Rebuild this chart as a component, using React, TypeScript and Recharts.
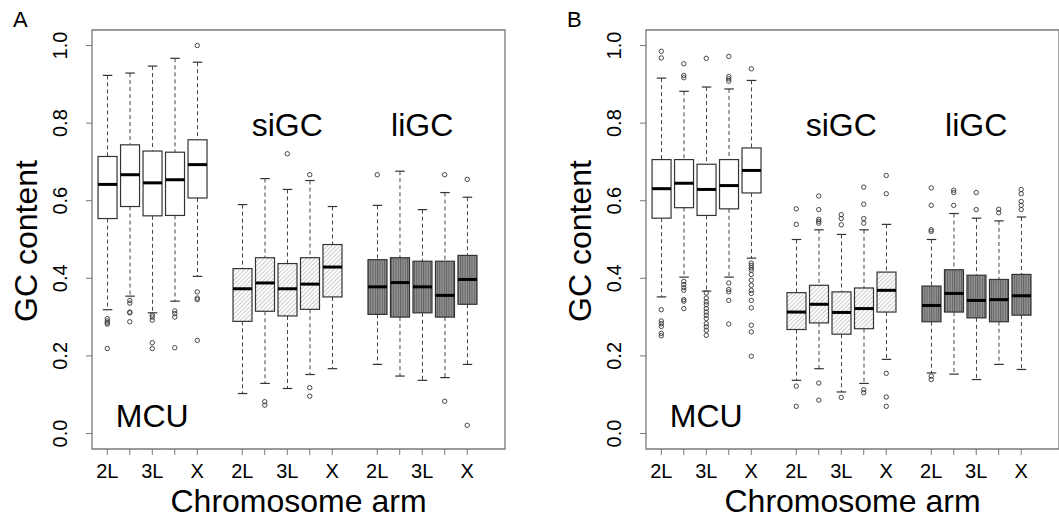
import React from 'react';
import { ComposedChart, Bar, Scatter, XAxis, YAxis, ReferenceArea, Label } from 'recharts';

const arms = ['2L', '2R', '3L', '3R', 'X'];
const armTickLabels = ['2L', '', '3L', '', 'X'];
const groups = ['MCU', 'siGC', 'liGC'];
const yTicks = [0, 0.2, 0.4, 0.6, 0.8, 1.0];
const xTicks = [1, 2, 3, 4, 5, 7, 8, 9, 10, 11, 13, 14, 15, 16, 17];
const groupLabelY = [0.016, 0.768, 0.768];

// order in every array: MCU 2L..X, siGC 2L..X, liGC 2L..X
// panel A
const aLow = [0.319, 0.354, 0.311, 0.341, 0.405, 0.103, 0.129, 0.116, 0.152, 0.167, 0.178, 0.148, 0.137, 0.144, 0.178];
const aQ1 = [0.554, 0.585, 0.561, 0.562, 0.607, 0.289, 0.315, 0.303, 0.320, 0.352, 0.307, 0.300, 0.311, 0.300, 0.333];
const aMedian = [0.642, 0.667, 0.646, 0.654, 0.693, 0.373, 0.388, 0.373, 0.385, 0.429, 0.378, 0.389, 0.378, 0.356, 0.397];
const aQ3 = [0.714, 0.744, 0.728, 0.725, 0.757, 0.425, 0.453, 0.438, 0.453, 0.487, 0.448, 0.453, 0.444, 0.444, 0.459];
const aHigh = [0.923, 0.929, 0.947, 0.967, 0.957, 0.590, 0.657, 0.629, 0.652, 0.585, 0.588, 0.676, 0.577, 0.621, 0.609];
const aOutliers = [
  [0.296, 0.290, 0.285, 0.282, 0.219],
  [0.343, 0.336, 0.313, 0.311, 0.288],
  [0.305, 0.300, 0.292, 0.234, 0.219],
  [0.316, 0.309, 0.300, 0.221],
  [1.0, 0.365, 0.349, 0.345, 0.240],
  [],
  [0.082, 0.073],
  [0.721],
  [0.667, 0.118, 0.096],
  [],
  [0.667],
  [],
  [],
  [0.667, 0.083],
  [0.655, 0.021],
];

// panel B
const bLow = [0.352, 0.403, 0.367, 0.403, 0.452, 0.137, 0.167, 0.107, 0.129, 0.191, 0.156, 0.153, 0.139, 0.178, 0.165];
const bQ1 = [0.555, 0.582, 0.562, 0.579, 0.620, 0.268, 0.285, 0.256, 0.270, 0.313, 0.288, 0.313, 0.298, 0.288, 0.305];
const bMedian = [0.631, 0.645, 0.629, 0.639, 0.678, 0.313, 0.333, 0.312, 0.322, 0.369, 0.330, 0.361, 0.343, 0.345, 0.355];
const bQ3 = [0.706, 0.706, 0.694, 0.706, 0.736, 0.363, 0.382, 0.365, 0.375, 0.416, 0.380, 0.422, 0.408, 0.397, 0.410];
const bHigh = [0.916, 0.882, 0.893, 0.888, 0.910, 0.500, 0.525, 0.513, 0.525, 0.539, 0.500, 0.567, 0.555, 0.548, 0.558];
const bOutliers = [
  [0.985, 0.968, 0.319, 0.290, 0.283, 0.276, 0.258, 0.252],
  [0.953, 0.923, 0.917, 0.392, 0.384, 0.376, 0.369, 0.345, 0.341, 0.322],
  [0.967, 0.362, 0.349, 0.339, 0.332, 0.322, 0.313, 0.305, 0.296, 0.283, 0.275, 0.266, 0.253],
  [0.972, 0.920, 0.914, 0.908, 0.388, 0.371, 0.365, 0.343, 0.282],
  [0.940, 0.439, 0.433, 0.427, 0.421, 0.410, 0.395, 0.382, 0.369, 0.361, 0.343, 0.324, 0.279, 0.262, 0.199],
  [0.579, 0.539, 0.122, 0.070],
  [0.612, 0.577, 0.552, 0.547, 0.542, 0.130, 0.086],
  [0.564, 0.554, 0.538, 0.093],
  [0.635, 0.591, 0.554, 0.542, 0.113, 0.105],
  [0.665, 0.618, 0.155, 0.094, 0.070],
  [0.633, 0.588, 0.525, 0.521, 0.148, 0.139],
  [0.627, 0.621, 0.588],
  [0.621, 0.577],
  [0.578, 0.569],
  [0.629, 0.618, 0.598, 0.588, 0.577],
];

const FONT = '"Liberation Sans", Arial, Helvetica, sans-serif';
const posOf = (i: number) => Math.floor(i / 5) * 6 + (i % 5) + 1;

function buildBoxes(low: number[], q1: number[], med: number[], q3: number[], high: number[]) {
  return low.map((_, i) => ({
    pos: posOf(i),
    group: groups[Math.floor(i / 5)],
    arm: arms[i % 5],
    lo: low[i],
    q1: q1[i],
    med: med[i],
    q3: q3[i],
    hi: high[i],
  }));
}

function buildOutliers(out: number[][]) {
  return out.flatMap((vals, i) => vals.map((v) => ({ pos: posOf(i), v })));
}

const groupLabels = groups.map((g, gi) => ({ pos: gi * 6 + 3, v: groupLabelY[gi], text: g }));

function BoxShape(props: any) {
  const { x, y, width, height, payload, prefix } = props;
  const { lo, q1, med, q3, hi, group } = payload;
  // pixel scale taken from the bar geometry recharts gives for [lo, hi]
  const k = Math.abs(height) / (hi - lo);
  const top = Math.min(y, y + height);
  const yv = (v: number) => top + (hi - v) * k;
  const cx = x + width / 2;
  const cap = width / 4;
  const fill = group === 'MCU' ? '#ffffff' : group === 'siGC' ? `url(#${prefix}-diag)` : `url(#${prefix}-vert)`;
  return (
    <g>
      <line x1={cx} x2={cx} y1={yv(hi)} y2={yv(q3)} stroke="#444" strokeWidth={1} strokeDasharray="4 3" />
      <line x1={cx} x2={cx} y1={yv(q1)} y2={yv(lo)} stroke="#444" strokeWidth={1} strokeDasharray="4 3" />
      <line x1={cx - cap} x2={cx + cap} y1={yv(hi)} y2={yv(hi)} stroke="#333" strokeWidth={1.2} />
      <line x1={cx - cap} x2={cx + cap} y1={yv(lo)} y2={yv(lo)} stroke="#333" strokeWidth={1.2} />
      <rect x={x} y={yv(q3)} width={width} height={yv(q1) - yv(q3)} fill={fill} stroke="#333" strokeWidth={1.2} />
      <line x1={x} x2={x + width} y1={yv(med)} y2={yv(med)} stroke="#000" strokeWidth={3} />
    </g>
  );
}

function XTick(props: any) {
  const { x, y, payload } = props;
  const label = armTickLabels[(payload.value - 1) % 6];
  return (
    <text x={x} y={y + 23} textAnchor="middle" fontSize={20} fill="#000">
      {label}
    </text>
  );
}

function YTick(props: any) {
  const { x, y, payload } = props;
  return (
    <text transform={`translate(${x - 19},${y}) rotate(-90)`} textAnchor="middle" fontSize={20} fill="#000">
      {Number(payload.value).toFixed(1)}
    </text>
  );
}

function Panel({ prefix, letter, left, width, marginRight, low, q1, med, q3, high, outliers }: any) {
  const boxes = buildBoxes(low, q1, med, q3, high);
  const points = buildOutliers(outliers);
  return (
    <div style={{ position: 'absolute', left, top: 0, width, height: 518 }}>
      <div style={{ position: 'absolute', left: 13, top: 9, fontSize: 22, lineHeight: '22px', zIndex: 2 }}>{letter}</div>
      <ComposedChart width={width} height={518} data={boxes} margin={{ top: 30, right: marginRight, bottom: 29, left: 32 }}>
        <defs>
          <pattern id={`${prefix}-diag`} patternUnits="userSpaceOnUse" width={3} height={3} patternTransform="rotate(45)">
            <rect width={3} height={3} fill="#ffffff" />
            <line x1={0} y1={0} x2={0} y2={3} stroke="#8a8a8a" strokeWidth={0.9} />
          </pattern>
          <pattern id={`${prefix}-vert`} patternUnits="userSpaceOnUse" width={2.3} height={4}>
            <rect width={2.3} height={4} fill="#929292" />
            <line x1={0.5} y1={0} x2={0.5} y2={4} stroke="#5a5a5a" strokeWidth={0.8} />
          </pattern>
        </defs>
        <XAxis
          type="number"
          dataKey="pos"
          domain={[0.32, 18.68]}
          allowDataOverflow
          ticks={xTicks}
          interval={0}
          tickSize={6}
          tickMargin={0}
          tickLine={{ stroke: '#777' }}
          axisLine={false}
          height={40}
          tick={<XTick />}
        >
          <Label
            content={({ viewBox }: any) => (
              <text x={viewBox.x + viewBox.width / 2} y={viewBox.y + 63} textAnchor="middle" fontSize={32} fill="#000">
                Chromosome arm
              </text>
            )}
          />
        </XAxis>
        <YAxis
          type="number"
          domain={[-0.04, 1.04]}
          allowDataOverflow
          ticks={yTicks}
          interval={0}
          width={60}
          tickSize={6}
          tickMargin={0}
          tickLine={{ stroke: '#777' }}
          axisLine={false}
          tick={<YTick />}
        >
          <Label
            content={({ viewBox }: any) => (
              <text
                transform={`translate(${viewBox.x + 5},${viewBox.y + viewBox.height / 2 + 1.5}) rotate(-90)`}
                textAnchor="middle"
                fontSize={32}
                fill="#000"
              >
                GC content
              </text>
            )}
          />
        </YAxis>
        <ReferenceArea x1={0.32} x2={18.68} y1={-0.04} y2={1.04} fill="none" stroke="#7a7a7a" strokeWidth={1.3} ifOverflow="visible" />
        <Bar
          dataKey={(d: any) => [d.lo, d.hi]}
          barSize={19}
          isAnimationActive={false}
          shape={(p: any) => <BoxShape {...p} prefix={prefix} />}
        />
        <Scatter
          data={points}
          dataKey="v"
          isAnimationActive={false}
          shape={(p: any) => <circle cx={p.cx} cy={p.cy} r={2.2} fill="none" stroke="#333" strokeWidth={0.9} />}
        />
        <Scatter
          data={groupLabels}
          dataKey="v"
          isAnimationActive={false}
          shape={(p: any) => (
            <text x={p.cx} y={p.cy} textAnchor="middle" fontSize={32} fill="#000">
              {p.payload.text}
            </text>
          )}
        />
      </ComposedChart>
    </div>
  );
}

export default function App() {
  return (
    <div style={{ position: 'absolute', left: 0, top: 0, width: 1059, height: 518, background: '#fff', fontFamily: FONT }}>
      <Panel prefix="pa" letter="A" left={0} width={530} marginRight={25}
        low={aLow} q1={aQ1} med={aMedian} q3={aQ3} high={aHigh} outliers={aOutliers} />
      <Panel prefix="pb" letter="B" left={554} width={505} marginRight={0}
        low={bLow} q1={bQ1} med={bMedian} q3={bQ3} high={bHigh} outliers={bOutliers} />
    </div>
  );
}
